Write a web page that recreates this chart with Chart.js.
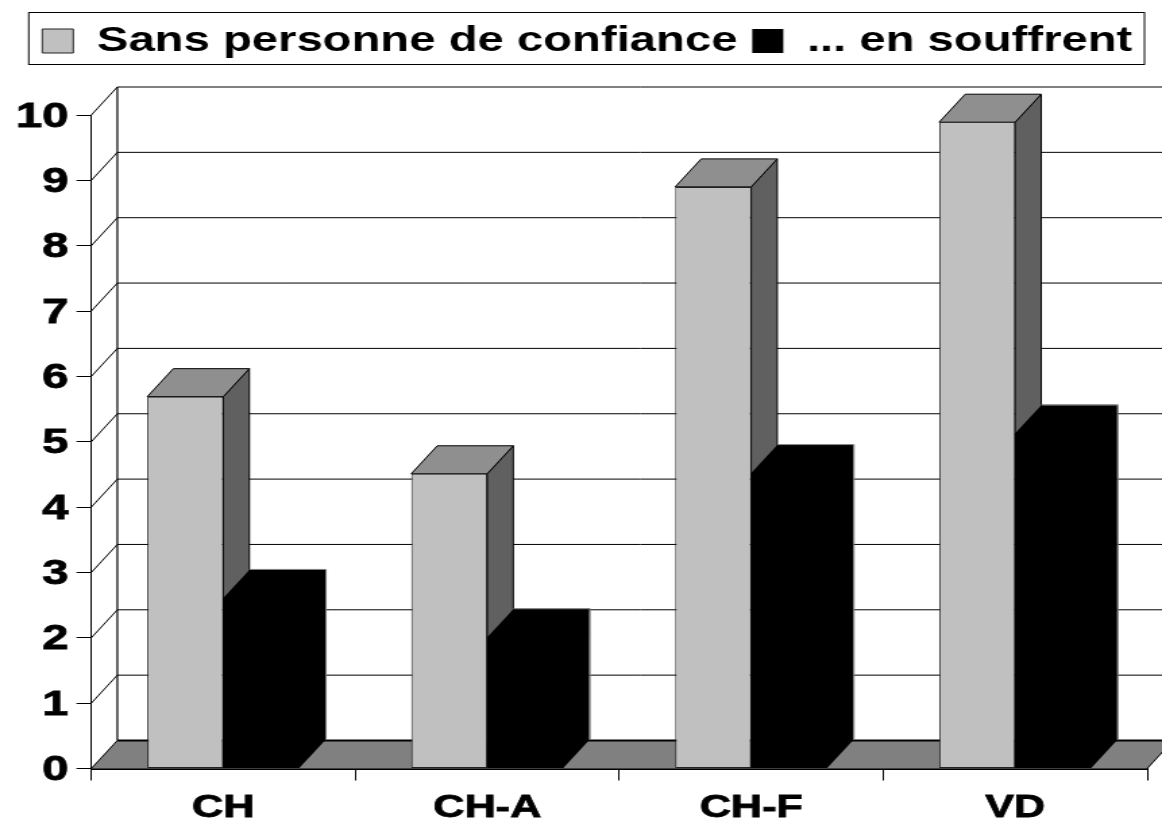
<!DOCTYPE html>
<html lang="fr">
  <head>
    <meta charset="utf-8" />
    <title>Sans personne de confiance</title>
    <style>
      * {
        margin: 0;
        padding: 0;
      }
      body {
        background: white;
        overflow: hidden;
      }
    </style>
  </head>
  <body>
    <!-- the original picture is stretched sideways, so the canvas is too -->
    <canvas id="myChart" width="861" height="820" style="display: block; width: 1162px; height: 820px"></canvas>

    <script src="https://cdnjs.cloudflare.com/ajax/libs/Chart.js/4.4.1/chart.umd.js"></script>

    <script>
      // data block
      const categories = ["CH", "CH-A", "CH-F", "VD"];
      const sansPersonne = [5.69, 4.51, 8.9, 9.89];
      const enSouffrent = [2.61, 2.01, 4.52, 5.13];

      // depth of the fake 3D, in canvas px
      const depthX = 19.3;
      const depthY = -28;

      function poly(ctx, pts, fill, stroke) {
        ctx.beginPath();
        pts.forEach((p, i) => (i ? ctx.lineTo(p[0], p[1]) : ctx.moveTo(p[0], p[1])));
        ctx.closePath();
        if (fill) {
          ctx.fillStyle = fill;
          ctx.fill();
        }
        if (stroke) {
          ctx.strokeStyle = stroke;
          ctx.lineWidth = 1;
          ctx.stroke();
        }
      }

      function line(ctx, x1, y1, x2, y2, width) {
        ctx.beginPath();
        ctx.moveTo(x1, y1);
        ctx.lineTo(x2, y2);
        ctx.strokeStyle = "#000";
        ctx.lineWidth = width;
        ctx.stroke();
      }

      // walls, floor and the depth of the bars
      const box3d = {
        id: "box3d",
        beforeInit(chart) {
          // room between the legend and the top of the plot
          const legend = chart.legend;
          const fit = legend.fit;
          legend.fit = function () {
            fit.call(legend);
            legend.height = 102.5;
          };
        },
        beforeDatasetsDraw(chart) {
          const ctx = chart.ctx;
          const { left, right } = chart.chartArea;
          const y = chart.scales.y;
          const y0 = y.getPixelForValue(0);

          ctx.save();
          poly(ctx, [[left, y0], [right, y0], [right + depthX, y0 + depthY], [left + depthX, y0 + depthY]], "#808080");
          y.ticks.forEach((tick) => {
            const py = y.getPixelForValue(tick.value);
            line(ctx, left, py, left + depthX, py + depthY, 1);
            if (tick.value > 0) {
              line(ctx, left + depthX, py + depthY, right + depthX, py + depthY, 1);
            }
          });
          line(ctx, left + depthX, y0 + depthY, right + depthX, y0 + depthY, 2);
          line(ctx, left + depthX, y.getPixelForValue(10) + depthY, left + depthX, y0 + depthY, 1.2);
          line(ctx, right, y0, right + depthX, y0 + depthY, 1);

          // grey bars: side and top, the front comes from the library
          chart.getDatasetMeta(0).data.forEach((bar) => {
            const l = bar.x - bar.width / 2;
            const r = bar.x + bar.width / 2;
            const t = bar.y;
            const b = bar.base;
            poly(ctx, [[r, t], [r + depthX, t + depthY], [r + depthX, b + depthY], [r, b]], "#606060", "#000");
            poly(ctx, [[l, t], [l + depthX, t + depthY], [r + depthX, t + depthY], [r, t]], "#8f8f8f", "#000");
          });
          ctx.restore();
        },
        afterDatasetsDraw(chart) {
          const ctx = chart.ctx;
          ctx.save();
          // black bars are one flat shape with a thin grey rim
          chart.getDatasetMeta(1).data.forEach((bar) => {
            const l = bar.x - bar.width / 2;
            const r = bar.x + bar.width / 2;
            const t = bar.y;
            const b = bar.base;
            poly(ctx, [[l, t], [l + depthX, t + depthY], [r + depthX, t + depthY], [r + depthX, b + depthY], [r, b], [l, b]], "#000");
            ctx.beginPath();
            ctx.moveTo(l + depthX, t + depthY - 0.5);
            ctx.lineTo(r + depthX + 0.5, t + depthY - 0.5);
            ctx.lineTo(r + depthX + 0.5, b + depthY);
            ctx.strokeStyle = "#777";
            ctx.lineWidth = 1;
            ctx.stroke();
          });
          ctx.restore();
        },
        afterDraw(chart) {
          const hits = chart.legend.legendHitBoxes;
          const last = hits[hits.length - 1];
          const ctx = chart.ctx;
          const boxLeft = hits[0].left - 10;
          ctx.save();
          ctx.strokeStyle = "#000";
          ctx.lineWidth = 1;
          ctx.strokeRect(boxLeft, 12.5, last.left + last.width + 9 - boxLeft, 52);
          ctx.restore();
        },
      };

      // config block
      const config = {
        type: "bar",
        data: {
          labels: categories,
          datasets: [
            {
              label: "Sans personne de confiance",
              data: sansPersonne,
              backgroundColor: "#c0c0c0",
              borderColor: "#222",
              borderWidth: 1,
              borderSkipped: false,
            },
            {
              label: "... en souffrent",
              data: enSouffrent,
              backgroundColor: "#000",
              borderColor: "#000",
              borderWidth: 0,
            },
          ],
        },
        options: {
          responsive: false,
          animation: false,
          devicePixelRatio: 1,
          layout: { padding: { top: 12.5, left: 8, right: 11, bottom: 0 } },
          datasets: { bar: { categoryPercentage: 0.576, barPercentage: 1 } },
          plugins: {
            tooltip: { enabled: false },
            legend: {
              position: "top",
              align: "end",
              labels: {
                boxWidth: 23,
                boxHeight: 24,
                padding: 11,
                color: "#000",
                font: { family: "'Liberation Sans'", size: 35, weight: "bold" },
              },
            },
          },
          scales: {
            x: {
              afterFit(scale) {
                scale.height = 51.5;
              },
              border: { color: "#000", width: 2 },
              grid: { drawOnChartArea: false, color: "#000", tickLength: 12 },
              ticks: {
                padding: 8,
                color: "#000",
                maxRotation: 0,
                textStrokeColor: "#000",
                textStrokeWidth: 0.8,
                font: { family: "'Liberation Sans'", size: 32, weight: "bold" },
              },
            },
            y: {
              min: 0,
              max: 10,
              afterFit(scale) {
                scale.width = 59.65;
              },
              border: { color: "#000", width: 1 },
              grid: { drawOnChartArea: false, color: "#000", tickLength: 11 },
              ticks: {
                stepSize: 1,
                padding: 6,
                labelOffset: 2,
                color: "#000",
                textStrokeColor: "#000",
                textStrokeWidth: 0.8,
                font: { family: "'Liberation Sans'", size: 35, weight: "bold" },
              },
            },
          },
        },
        plugins: [box3d],
      };

      // init render block
      const ctx = document.getElementById("myChart");
      const myChart = new Chart(ctx, config);
    </script>
  </body>
</html>
